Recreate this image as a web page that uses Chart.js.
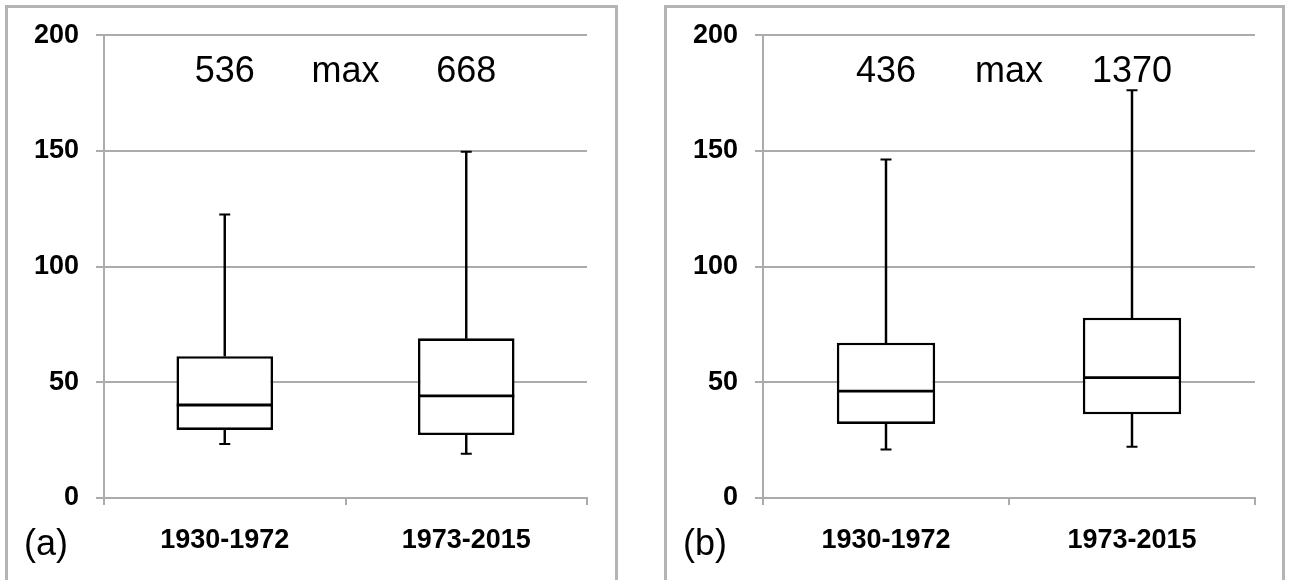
<!DOCTYPE html>
<html>
<head>
<meta charset="utf-8">
<script src="https://cdn.jsdelivr.net/npm/chart.js@4.4.1/dist/chart.umd.min.js"></script>
<style>
    body { margin: 0; background: #fff; width: 1290px; height: 580px; overflow: hidden; position: relative; }
    .panel { position: absolute; top: 5px; height: 600px; border: 3px solid #b4b4b4; border-bottom: none; box-sizing: border-box; }
    .panel canvas { position: absolute; left: 0; top: -6px; display: block; }
    .tag { position: absolute; top: 514px; font: 36px "Liberation Sans", Arial, sans-serif; color: #000; }
</style>
</head>
<body>
<div class="panel" id="panelA" style="left:5px; width:613px;">
    <canvas id="chartA" width="607" height="578"></canvas>
    <span class="tag" style="left:16px;">(a)</span>
</div>
<div class="panel" id="panelB" style="left:664px; width:621px;">
    <canvas id="chartB" width="615" height="578"></canvas>
    <span class="tag" style="left:16px;">(b)</span>
</div>
<script>
// Categories and tick labels
const categories = ['1930-1972', '1973-2015'];
const yTicks = [0, 50, 100, 150, 200];

// Panel (a) box plot values
const lowA = [23.3, 19.1];
const q1A = [29.4, 27.2];
const medianA = [40.2, 44.1];
const q3A = [61.3, 69.0];
const highA = [122.5, 149.6];
const maxA = ['536', '668'];

// Panel (b) box plot values
const lowB = [21.0, 22.2];
const q1B = [32.0, 36.2];
const medianB = [46.2, 52.0];
const q3B = [67.1, 77.9];
const highB = [146.3, 176.2];
const maxB = ['436', '1370'];

const fontFamily = '"Liberation Sans", Arial, sans-serif';
const gridGray = '#ababab';

// Writes the "max" values above the boxes
const maxLabels = {
    id: 'maxLabels',
    afterDatasetsDraw(chart, args, opts) {
        const ctx = chart.ctx;
        const x = chart.scales.x;
        const y = chart.scales.y.getPixelForValue(184);
        ctx.save();
        ctx.fillStyle = '#000';
        ctx.font = '36px ' + fontFamily;
        ctx.textAlign = 'center';
        ctx.textBaseline = 'middle';
        opts.values.forEach((v, i) => ctx.fillText(v, x.getPixelForValue(i), y));
        ctx.fillText('max', x.getPixelForValue(0.5), y);
        ctx.restore();
    }
};

function makeBoxChart(canvasId, low, q1, median, q3, high, maxText, rightPad) {
    const data = {
        labels: categories,
        datasets: [
            {
                type: 'line',
                data: median,
                showLine: false,
                pointStyle: 'line',
                pointRadius: 48,
                pointBorderWidth: 2.8,
                pointBorderColor: '#000',
                order: 0
            },
            {
                type: 'line',
                data: low,
                showLine: false,
                pointStyle: 'line',
                pointRadius: 5.5,
                pointBorderWidth: 2,
                pointBorderColor: '#000',
                order: 0
            },
            {
                type: 'line',
                data: high,
                showLine: false,
                pointStyle: 'line',
                pointRadius: 5.5,
                pointBorderWidth: 2,
                pointBorderColor: '#000',
                order: 0
            },
            {
                type: 'bar',
                data: q1.map((v, i) => [v, q3[i]]),
                backgroundColor: '#fff',
                borderColor: '#000',
                borderWidth: 2.6,
                borderSkipped: false,
                barPercentage: 0.4,
                categoryPercentage: 1.0,
                grouped: false,
                order: 1
            },
            {
                type: 'bar',
                data: q3.map((v, i) => [v, high[i]]),
                backgroundColor: '#000',
                borderWidth: 0,
                barThickness: 1.8,
                grouped: false,
                order: 2
            },
            {
                type: 'bar',
                data: low.map((v, i) => [v, q1[i]]),
                backgroundColor: '#000',
                borderWidth: 0,
                barThickness: 1.8,
                grouped: false,
                order: 2
            }
        ]
    };

    const config = {
        type: 'bar',
        data: data,
        plugins: [maxLabels],
        options: {
            responsive: false,
            animation: false,
            events: [],
            layout: {
                autoPadding: false,
                padding: { left: 0, top: 21, right: rightPad, bottom: 0 }
            },
            plugins: {
                legend: { display: false },
                tooltip: { enabled: false },
                maxLabels: { values: maxText }
            },
            scales: {
                x: {
                    offset: true,
                    afterFit: (scale) => { scale.height = 82; },
                    grid: {
                        offset: true,
                        drawOnChartArea: false,
                        drawTicks: true,
                        tickLength: 7,
                        color: gridGray,
                        lineWidth: 2
                    },
                    border: { color: gridGray, width: 2 },
                    ticks: {
                        color: '#000',
                        padding: 19,
                        font: { family: fontFamily, size: 27, weight: 'bold' }
                    }
                },
                y: {
                    min: 0,
                    max: 200,
                    afterFit: (scale) => { scale.width = 96; },
                    afterBuildTicks: (scale) => { scale.ticks = yTicks.map(v => ({ value: v })); },
                    grid: {
                        drawTicks: true,
                        tickLength: 8,
                        color: gridGray,
                        lineWidth: 2
                    },
                    border: { color: gridGray, width: 2 },
                    ticks: {
                        color: '#000',
                        padding: 17,
                        font: { family: fontFamily, size: 27, weight: 'bold' }
                    }
                }
            }
        }
    };

    return new Chart(document.getElementById(canvasId), config);
}

const chartA = makeBoxChart('chartA', lowA, q1A, medianA, q3A, highA, maxA, 28);
const chartB = makeBoxChart('chartB', lowB, q1B, medianB, q3B, highB, maxB, 27);
</script>
</body>
</html>
